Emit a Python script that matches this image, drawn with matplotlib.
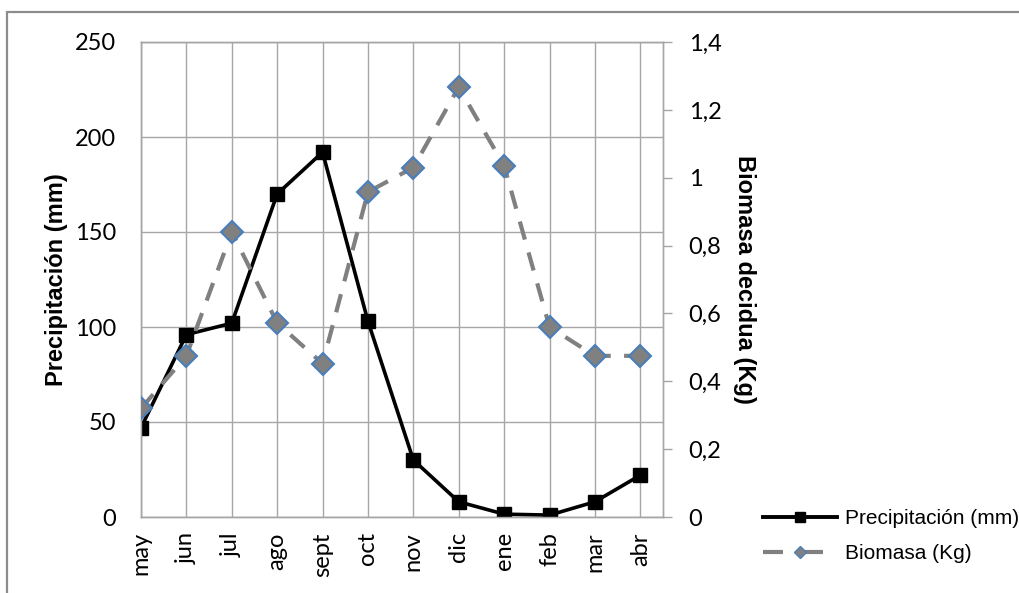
import matplotlib
matplotlib.use("Agg")
import matplotlib.pyplot as plt
from matplotlib.lines import Line2D
from matplotlib.patches import Rectangle
from matplotlib.ticker import FuncFormatter, MultipleLocator

# ── Data ──────────────────────────────────────────────────────────────────────
meses = ["may", "jun", "jul", "ago", "sept", "oct",
         "nov", "dic", "ene", "feb", "mar", "abr"]
precipitacion = [47, 96, 102, 170, 192, 103, 30, 8, 1.5, 1, 8, 22]      # mm
biomasa = [0.32, 0.475, 0.84, 0.572, 0.452, 0.958,
           1.03, 1.267, 1.035, 0.56, 0.475, 0.475]                         # Kg

# ── Style ─────────────────────────────────────────────────────────────────────
GRID = "#a6a6a6"
GRAY = "#808080"
BLUE = "#4a7ebb"
TICK_FONT = "Lato"
TEXT_FONT = "Liberation Sans"
TICK_SIZE = 17

fig = plt.figure(figsize=(10.2, 5.93), dpi=100, facecolor="white")

# chart-area border (only top and left edges fall inside the image)
fig.add_artist(Rectangle((7 / 1020, -0.2), 1.2, 1.2 - 12 / 593,
                         transform=fig.transFigure, fill=False,
                         edgecolor="#8c8c8c", linewidth=1.6, clip_on=False))

ax = fig.add_axes([141 / 1020, 1 - 517 / 593, 522 / 1020, 475 / 593])
x = list(range(len(meses)))

ax.set_xlim(0, 11.5)
ax.set_ylim(0, 250)
ax.yaxis.set_major_locator(MultipleLocator(50))
ax.set_xticks(x)
ax.set_xticklabels(meses, rotation=90, fontsize=TICK_SIZE, family=TICK_FONT)
ax.tick_params(axis="x", length=0, pad=11, colors="black")
ax.tick_params(axis="y", length=0, pad=18, labelsize=TICK_SIZE, colors="black")
for lbl in ax.get_yticklabels():
    lbl.set_family(TICK_FONT)
ax.grid(True, color=GRID, linewidth=1.0)
ax.set_axisbelow(True)
for sp in ax.spines.values():
    sp.set_color(GRID)
    sp.set_linewidth(1.0)

ax.plot(x, precipitacion, color="black", linewidth=2.6, marker="s",
        markersize=10, markerfacecolor="black", markeredgecolor="black",
        zorder=3)
ax.set_ylabel("Precipitación (mm)", fontsize=17, fontweight="bold",
              family=TEXT_FONT, va="center", ha="center")
ax.yaxis.set_label_coords(-0.161, 0.5)

# ── Secondary axis: biomass ───────────────────────────────────────────────────
ax2 = ax.twinx()
ax2.set_ylim(0, 1.4)
ax2.yaxis.set_major_locator(MultipleLocator(0.2))
ax2.yaxis.set_major_formatter(
    FuncFormatter(lambda v, _: f"{round(v, 1):g}".replace(".", ",")))
ax2.tick_params(axis="y", length=6.5, width=1.0, color=GRID, pad=12,
                labelsize=TICK_SIZE, labelcolor="black")
for lbl in ax2.get_yticklabels():
    lbl.set_family(TICK_FONT)
for sp in ax2.spines.values():
    sp.set_color(GRID)
    sp.set_linewidth(1.0)

ax2.plot(x, biomasa, color=GRAY, linewidth=3.0, linestyle=(0, (4.5, 3.2)),
         marker="D", markersize=11, markerfacecolor=GRAY,
         markeredgecolor=BLUE, markeredgewidth=1.5, zorder=3)
ax2.set_ylabel("Biomasa decidua (Kg)", fontsize=17, fontweight="bold",
               family=TEXT_FONT, rotation=270, va="center", ha="center")
ax2.yaxis.set_label_coords(1.157, 0.5)

# ── Legend ────────────────────────────────────────────────────────────────────
handles = [
    Line2D([], [], color="black", linewidth=2.8, marker="s", markersize=6.5),
    Line2D([], [], color=GRAY, linewidth=3.0, linestyle=(0, (4.8, 4.8)),
           marker="D", markersize=6, markerfacecolor=GRAY,
           markeredgecolor=BLUE, markeredgewidth=1.0),
]
fig.legend(handles, ["Precipitación (mm)", "Biomasa (Kg)"],
           loc="center left", bbox_to_anchor=(763 / 1020, 1 - 536 / 593),
           frameon=False, borderpad=0, borderaxespad=0, handlelength=3.55,
           handletextpad=0.38, labelspacing=0.75, numpoints=1,
           prop={"family": TEXT_FONT, "size": 15})

fig.savefig("out.png", dpi=100, facecolor="white")
